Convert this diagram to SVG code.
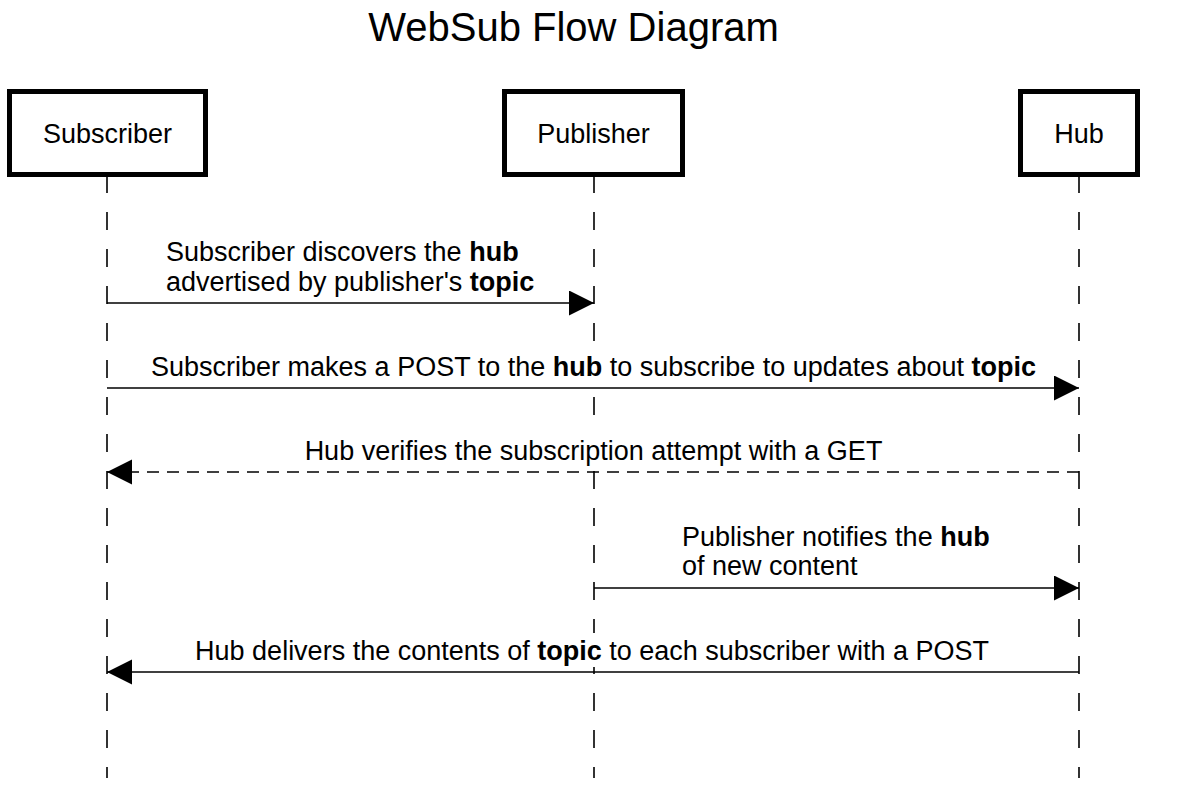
<svg xmlns="http://www.w3.org/2000/svg" width="1184" height="812" viewBox="0 0 1184 812">
  <style>
    text { font-family: "Liberation Sans", Arial, Helvetica, sans-serif; fill: #000; }
    .title { font-size: 40px; }
    .actor rect { fill: #fff; stroke: #000; stroke-width: 5; }
    .actor text { font-size: 27px; text-anchor: middle; }
    .lifeline { stroke: #000; stroke-width: 1.6; stroke-dasharray: 18 19; fill: none; }
    .msg { stroke: #000; stroke-width: 1.6; fill: none; marker-end: url(#head); }
    .dashed { stroke-dasharray: 12 8; }
    .label { font-size: 27px; }
    .mid { text-anchor: middle; }
    .b { font-weight: bold; }
    .bg { fill: #fff; stroke: none; }
  </style>
  <defs>
    <marker id="head" markerUnits="userSpaceOnUse" markerWidth="26" markerHeight="26" refX="25" refY="12.5" orient="auto">
      <path d="M0,0 L25,12.5 L0,25 Z" fill="#000"/>
    </marker>
  </defs>

  <rect width="1184" height="812" fill="#fff"/>

  <text class="title" x="573.5" y="41" text-anchor="middle">WebSub Flow Diagram</text>

  <!-- lifelines -->
  <g id="lifelines">
    <line class="lifeline" x1="107" y1="175" x2="107" y2="778"/>
    <line class="lifeline" x1="594" y1="175" x2="594" y2="778"/>
    <line class="lifeline" x1="1079" y1="175" x2="1079" y2="778"/>
  </g>

  <!-- participants -->
  <g id="subscriber" class="actor">
    <rect x="9.5" y="91.5" width="196" height="83"/>
    <text x="107.5" y="143">Subscriber</text>
  </g>
  <g id="publisher" class="actor">
    <rect x="504.5" y="91.5" width="178" height="83"/>
    <text x="593.5" y="143">Publisher</text>
  </g>
  <g id="hub" class="actor">
    <rect x="1020.5" y="91.5" width="117" height="83"/>
    <text x="1079" y="143">Hub</text>
  </g>

  <!-- messages -->
  <g id="connectors">
    <line class="msg" x1="107" y1="303" x2="594" y2="303"/>
    <line class="msg" x1="107" y1="388" x2="1079" y2="388"/>
    <line class="msg dashed" x1="1079" y1="472" x2="107" y2="472"/>
    <line class="msg" x1="594" y1="588" x2="1079" y2="588"/>
    <line class="msg" x1="1079" y1="672" x2="107" y2="672"/>
  </g>

  <!-- label backings keep lifelines from running through the text -->
  <g id="label-backs">
    <rect class="bg" x="146" y="349" width="895" height="34"/>
    <rect class="bg" x="301" y="433" width="585" height="33"/>
    <rect class="bg" x="193" y="633" width="797" height="34"/>
  </g>

  <g id="labels">
    <text class="label" x="166" y="261">Subscriber discovers the <tspan class="b">hub</tspan></text>
    <text class="label" x="166" y="291">advertised by publisher's <tspan class="b">topic</tspan></text>
    <text class="label mid" x="593.5" y="376">Subscriber makes a POST to the <tspan class="b">hub</tspan> to subscribe to updates about <tspan class="b">topic</tspan></text>
    <text class="label mid" x="593.5" y="460">Hub verifies the subscription attempt with a GET</text>
    <text class="label" x="682" y="546">Publisher notifies the <tspan class="b">hub</tspan></text>
    <text class="label" x="682" y="575">of new content</text>
    <text class="label mid" x="592" y="660">Hub delivers the contents of <tspan class="b">topic</tspan> to each subscriber with a POST</text>
  </g>
</svg>
